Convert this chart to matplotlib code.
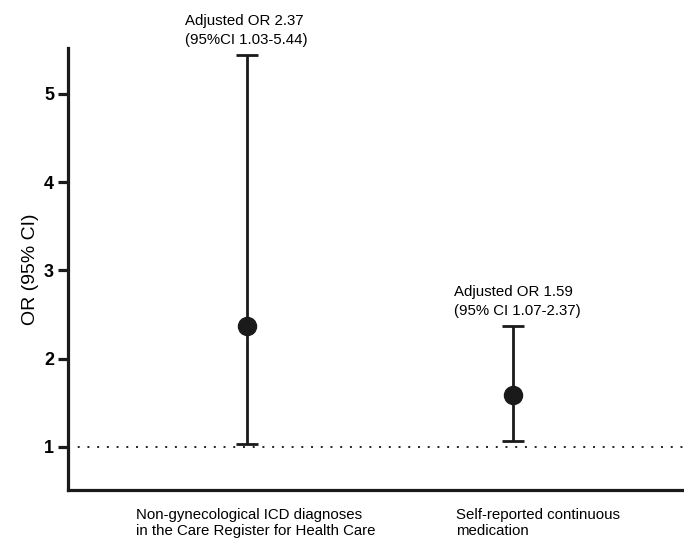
import numpy as np
import matplotlib.pyplot as plt

plt.rcParams['font.family'] = ['Liberation Sans', 'DejaVu Sans']

groups = ["Non-gynecological ICD diagnoses\nin the Care Register for Health Care",
          "Self-reported continuous\nmedication"]
odds_ratio = [2.37, 1.59]
ci_low = [1.03, 1.07]
ci_high = [5.44, 2.37]
notes = ["Adjusted OR 2.37\n(95%CI 1.03-5.44)",
         "Adjusted OR 1.59\n(95% CI 1.07-2.37)"]

xpos = np.array([1, 2])
or_arr = np.array(odds_ratio)
yerr = np.vstack([or_arr - np.array(ci_low), np.array(ci_high) - or_arr])

fig = plt.figure(figsize=(6.84, 5.4), dpi=100)
ax = fig.add_axes([0.0994, 0.0926, 0.9006, 0.8185])

ax.axhline(1, color='#222222', linestyle=(0, (1, 4)), linewidth=1.4, zorder=1)
ax.errorbar(xpos, or_arr, yerr=yerr, fmt='o', color='#1a1a1a', ecolor='#1a1a1a',
            markersize=13, elinewidth=2, capsize=8, capthick=2, zorder=3)

# annotations above each interval
note_x = [0.768, 1.779]
for xn, hi, txt in zip(note_x, ci_high, notes):
    ax.text(xn, hi + 0.09, txt, ha='left', va='bottom', fontsize=10.8,
            linespacing=1.45, clip_on=False)

# category labels, left aligned under the axis
for xl, lab in zip([0.585, 1.785], groups):
    ax.text(xl, 0.31, lab, ha='left', va='top', fontsize=10.8, linespacing=1.22,
            clip_on=False)

ax.set_xlim(0.33, 2.64)
ax.set_ylim(0.51, 5.52)
ax.set_xticks([])
ax.set_yticks([1, 2, 3, 4, 5])
ax.set_yticklabels(['1', '2', '3', '4', '5'], fontweight='bold', fontsize=13)
ax.set_ylabel("OR (95% CI)", fontsize=14, labelpad=4)

for side in ['top', 'right']:
    ax.spines[side].set_visible(False)
for side in ['left', 'bottom']:
    ax.spines[side].set_linewidth(2.3)
    ax.spines[side].set_color('#1a1a1a')
ax.tick_params(axis='y', length=7, width=2.3, color='#1a1a1a', pad=3)

fig.savefig("out.png", dpi=100)
